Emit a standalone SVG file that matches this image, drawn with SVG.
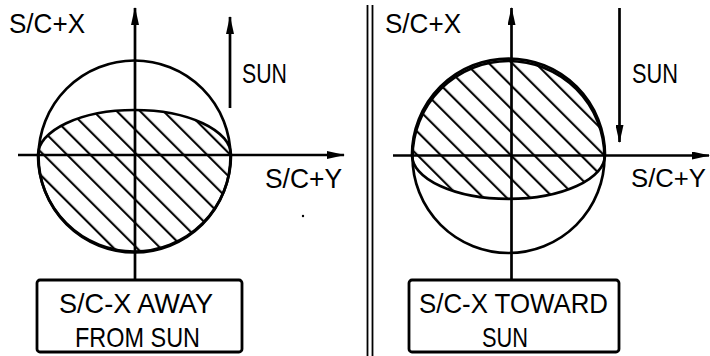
<svg xmlns="http://www.w3.org/2000/svg" width="710" height="356" viewBox="0 0 710 356">
  <style>
    .ln { stroke: #000; stroke-width: 2.7; fill: none; stroke-linecap: butt; }
    .thin { stroke: #000; stroke-width: 1.8; fill: none; }
    .box { stroke: #000; stroke-width: 2.8; fill: #fff; }
    .t { font-family: "Liberation Sans", Arial, sans-serif; font-size: 28px; fill: #000; }
  </style>
  <defs>
    <marker id="ah" viewBox="0 0 18 8" refX="17" refY="4" markerWidth="18" markerHeight="8" markerUnits="userSpaceOnUse" orient="auto">
      <path d="M0,0 L18,4 L0,8 Z" fill="#000"/>
    </marker>
    <pattern id="hatch" patternUnits="userSpaceOnUse" width="16.5" height="16.5" patternTransform="rotate(-45)">
      <line x1="4" y1="-1" x2="4" y2="17.5" stroke="#000" stroke-width="2.1"/>
    </pattern>
  </defs>

  <rect x="0" y="0" width="710" height="356" fill="#fff"/>

  <!-- left panel -->
  <g id="left-panel">
    <path id="left-hatch" d="M38,155 A 96.5 45 0 0 1 231,155 A 96 96 0 0 1 38,155 Z" fill="url(#hatch)" stroke="#000" stroke-width="2.7"/>
    <circle id="left-circle" cx="134.5" cy="156.5" r="96" class="ln"/>
    <circle cx="303" cy="216" r="1.2" fill="#000"/>
  </g>

  <!-- right panel -->
  <g id="right-panel">
    <path id="right-hatch" d="M412,155 A 96 96 0 0 1 605,155 A 96.5 44 0 0 1 412,155 Z" fill="url(#hatch)" stroke="#000" stroke-width="2.7"/>
    <circle id="right-circle" cx="508.5" cy="157" r="96" class="ln"/>
  </g>

  <!-- divider -->
  <g id="divider">
    <line x1="367.5" y1="5" x2="367.5" y2="356" class="thin"/>
    <line x1="372.5" y1="5" x2="372.5" y2="356" class="thin"/>
  </g>

  <!-- connectors: axes and sun arrows -->
  <g id="connectors">
    <line x1="135" y1="280" x2="135" y2="8" class="ln" marker-end="url(#ah)"/>
    <line x1="18" y1="155" x2="344" y2="155" class="ln" marker-end="url(#ah)"/>
    <line x1="230" y1="108" x2="230" y2="17" class="ln" marker-end="url(#ah)"/>

    <line x1="511.5" y1="280" x2="511.5" y2="8" class="ln" marker-end="url(#ah)"/>
    <line x1="393" y1="155.5" x2="709" y2="155.5" class="ln" marker-end="url(#ah)"/>
    <line x1="619.5" y1="8" x2="619.5" y2="142" class="ln" marker-end="url(#ah)"/>
  </g>

  <!-- labels -->
  <g id="labels">
    <text class="t" x="9" y="33" textLength="76" lengthAdjust="spacingAndGlyphs">S/C+X</text>
    <text class="t" x="242" y="83" textLength="45" lengthAdjust="spacingAndGlyphs">SUN</text>
    <text class="t" x="265" y="188" textLength="77" lengthAdjust="spacingAndGlyphs">S/C+Y</text>
    <text class="t" x="385" y="33" textLength="76" lengthAdjust="spacingAndGlyphs">S/C+X</text>
    <text class="t" x="632" y="83" textLength="46" lengthAdjust="spacingAndGlyphs">SUN</text>
    <text class="t" x="631" y="187" style="font-size:26.5px" textLength="75" lengthAdjust="spacingAndGlyphs">S/C+Y</text>
  </g>

  <!-- boxes -->
  <g id="box-away">
    <rect class="box" x="37" y="280" width="205" height="72" rx="3"/>
    <text class="t" x="59" y="313" textLength="154" lengthAdjust="spacingAndGlyphs">S/C-X AWAY</text>
    <text class="t" x="75" y="347" textLength="125" lengthAdjust="spacingAndGlyphs">FROM SUN</text>
  </g>
  <g id="box-toward">
    <rect class="box" x="409" y="280" width="210" height="72" rx="3"/>
    <text class="t" x="419" y="313" textLength="189" lengthAdjust="spacingAndGlyphs">S/C-X TOWARD</text>
    <text class="t" x="482" y="347" textLength="46" lengthAdjust="spacingAndGlyphs">SUN</text>
  </g>
</svg>
